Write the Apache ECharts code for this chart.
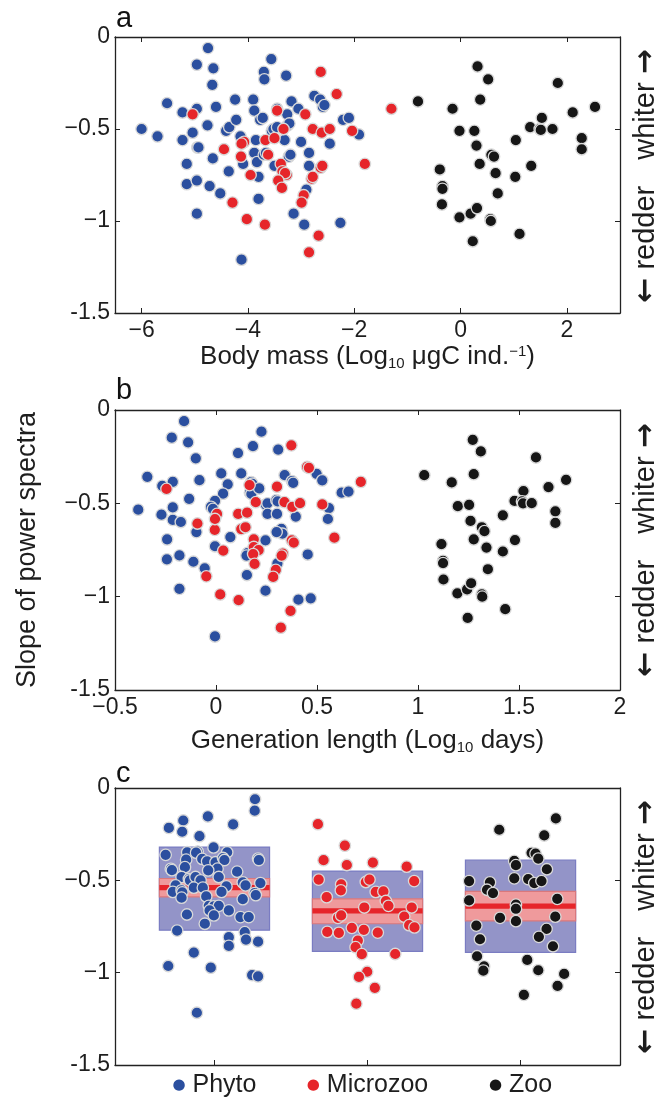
<!DOCTYPE html>
<html><head><meta charset="utf-8">
<script src="https://cdn.jsdelivr.net/npm/echarts@6.0.0/dist/echarts.min.js"></script>
<style>html,body{margin:0;padding:0;background:#fff}#c{width:659px;height:1100px}</style>
</head><body><div id="c"></div>
<script>
// ---------- Panel a: body mass (log10 µgC ind^-1) vs slope ----------
const massPhyto = [
[-4.75,-0.06],[-4.96,-0.15],[-4.65,-0.17],[-4.67,-0.26],[-3.56,-0.12],[-3.70,-0.19],[-3.69,-0.23],[-3.28,-0.21],
[-5.52,-0.36],[-5.23,-0.41],[-4.96,-0.39],[-4.60,-0.38],[-4.24,-0.34],[-3.90,-0.34],[-3.88,-0.40],[-3.77,-0.45],[-3.72,-0.44],
[-3.45,-0.39],[-3.26,-0.42],[-3.18,-0.35],[-3.05,-0.39],[-2.75,-0.32],[-2.64,-0.34],[-2.59,-0.38],[-2.56,-0.37],
[-2.21,-0.45],[-2.10,-0.44],[-1.91,-0.53],[-2.46,-0.58],[-6.00,-0.50],[-5.70,-0.54],[-5.23,-0.56],[-5.04,-0.52],
[-4.95,-0.60],[-4.93,-0.60],[-4.76,-0.48],[-4.41,-0.51],[-4.35,-0.49],[-4.22,-0.45],[-4.14,-0.54],[-3.85,-0.56],
[-3.55,-0.51],[-3.52,-0.50],[-3.45,-0.49],[-3.31,-0.56],[-3.25,-0.48],[-3.22,-0.47],[-3.00,-0.57],[-4.66,-0.66],
[-5.15,-0.69],[-5.15,-0.80],[-4.96,-0.78],[-4.72,-0.81],[-4.52,-0.85],[-4.36,-0.73],[-4.09,-0.69],[-3.88,-0.63],
[-3.83,-0.68],[-3.80,-0.76],[-3.80,-0.88],[-3.70,-0.64],[-3.66,-0.63],[-3.50,-0.70],[-3.23,-0.65],[-3.20,-0.64],
[-2.85,-0.63],[-2.85,-0.70],[-2.90,-0.83],[-4.96,-0.96],[-3.14,-0.96],[-2.94,-1.02],[-2.26,-1.01],[-4.12,-1.21]
];
const massMicro = [
[-2.63,-0.19],[-2.33,-0.31],[-5.04,-0.42],[-3.45,-0.40],[-2.92,-0.42],[-3.33,-0.50],[-3.67,-0.56],[-3.50,-0.55],
[-2.78,-0.50],[-2.61,-0.52],[-2.46,-0.50],[-2.04,-0.51],[-1.80,-0.69],[-4.45,-0.61],[-4.07,-0.57],[-4.12,-0.58],
[-4.13,-0.65],[-3.62,-0.64],[-3.95,-0.75],[-3.38,-0.69],[-3.35,-0.73],[-3.27,-0.75],[-3.30,-0.74],[-3.43,-0.78],
[-3.36,-0.82],[-2.63,-0.71],[-2.60,-0.70],[-2.80,-0.77],[-2.78,-0.76],[-2.95,-0.86],[-2.99,-0.90],[-4.29,-0.90],
[-4.02,-0.99],[-3.68,-1.02],[-2.67,-1.08],[-2.85,-1.17],[-1.30,-0.39]
];
const massZoo = [
[-0.80,-0.35],[-0.15,-0.39],[0.32,-0.16],[0.52,-0.23],[0.37,-0.34],[-0.02,-0.51],[0.26,-0.51],[0.30,-0.59],
[0.58,-0.64],[0.63,-0.65],[0.36,-0.69],[0.66,-0.74],[-0.39,-0.72],[-0.34,-0.81],[-0.34,-0.825],[-0.35,-0.91],
[-0.02,-0.98],[0.19,-0.96],[0.31,-0.93],[0.56,-0.99],[0.57,-1.0],[0.23,-1.11],[0.70,-0.85],[1.04,-0.56],
[1.03,-0.76],[1.33,-0.70],[1.11,-1.07],[1.31,-0.49],[1.49,-0.50],[1.51,-0.505],[1.53,-0.44],[1.73,-0.50],
[1.83,-0.25],[2.11,-0.41],[2.28,-0.55],[2.28,-0.61],[2.53,-0.38]
];
const massTicks = [-6, -4, -2, 0, 2];

// ---------- Panel b: generation length (log10 days) vs slope ----------
const genPhyto = [
[-0.158,-0.06],[-0.219,-0.148],[-0.138,-0.173],[-0.100,-0.259],[0.225,-0.116],[0.183,-0.194],[0.109,-0.231],[0.308,-0.212],
[-0.340,-0.358],[-0.266,-0.406],[-0.214,-0.385],[-0.082,-0.376],[0.026,-0.340],[0.125,-0.340],[0.058,-0.398],[0.035,-0.448],
[-0.005,-0.487],[-0.025,-0.519],[-0.015,-0.53],[-0.133,-0.476],[-0.385,-0.534],[-0.27,-0.561],[-0.214,-0.522],[-0.214,-0.589],
[-0.174,-0.60],[-0.097,-0.654],[-0.242,-0.693],[-0.243,-0.80],[-0.181,-0.779],[-0.112,-0.813],[-0.056,-0.848],[-0.181,-0.958],
[-0.005,-0.730],[0.071,-0.681],[-0.005,-1.213],[0.153,-0.884],[0.156,-0.766],[0.151,-0.78],[0.174,-0.386],[0.18,-0.395],
[0.168,-0.443],[0.175,-0.45],[0.214,-0.42],[0.247,-0.508],[0.255,-0.50],[0.299,-0.483],[0.305,-0.49],[0.255,-0.557],
[0.302,-0.557],[0.324,-0.637],[0.329,-0.663],[0.30,-0.654],[0.245,-0.698],[0.395,-0.571],[0.340,-0.349],[0.376,-0.381],
[0.382,-0.39],[0.498,-0.342],[0.526,-0.377],[0.622,-0.443],[0.656,-0.437],[0.559,-0.526],[0.554,-0.584],[0.454,-0.774],
[0.304,-0.822],[0.245,-0.968],[0.408,-1.016],[0.469,-1.009]
];
const genMicro = [
[0.373,-0.189],[0.451,-0.305],[0.46,-0.31],[0.717,-0.385],[-0.245,-0.423],[0.166,-0.402],[0.302,-0.411],[0.197,-0.494],
[0.339,-0.494],[0.378,-0.519],[0.416,-0.499],[0.526,-0.506],[0.586,-0.684],[-0.092,-0.608],[-0.006,-0.642],[0.005,-0.557],
[-0.005,-0.584],[0.110,-0.557],[0.154,-0.550],[0.125,-0.638],[0.146,-0.628],[0.036,-0.753],[0.187,-0.693],[0.187,-0.734],
[0.211,-0.751],[0.184,-0.772],[0.191,-0.824],[0.375,-0.698],[0.385,-0.71],[0.331,-0.769],[0.325,-0.78],[0.296,-0.857],
[0.283,-0.894],[-0.048,-0.891],[0.021,-0.988],[0.112,-1.019],[0.369,-1.076],[0.321,-1.166]
];
const genZoo = [
[1.031,-0.349],[1.167,-0.388],[1.271,-0.160],[1.311,-0.222],[1.276,-0.344],[1.197,-0.515],[1.253,-0.508],[1.260,-0.594],
[1.316,-0.628],[1.329,-0.649],[1.276,-0.693],[1.339,-0.737],[1.420,-0.564],[1.420,-0.758],[1.480,-0.697],[1.116,-0.718],
[1.124,-0.808],[1.124,-0.82],[1.126,-0.908],[1.346,-0.853],[1.195,-0.982],[1.243,-0.961],[1.263,-0.928],[1.316,-0.987],
[1.318,-1.0],[1.246,-1.114],[1.432,-1.067],[1.522,-0.434],[1.478,-0.487],[1.515,-0.490],[1.52,-0.50],[1.563,-0.499],
[1.584,-0.254],[1.646,-0.413],[1.733,-0.374],[1.680,-0.543],[1.680,-0.605]
];

// ---------- Panel c: slope by group (x = jittered position around group 1,2,3) ----------
const categories = ['Phyto', 'Microzoo', 'Zoo'];
const stripPhyto = [
[1.265,-0.061],[1.263,-0.123],[0.702,-0.216],[0.796,-0.176],[0.789,-0.237],[0.957,-0.154],[0.902,-0.261],[1.122,-0.197],
[0.994,-0.322],[0.681,-0.362],[0.822,-0.348],[0.89,-0.344],[0.88,-0.35],[0.92,-0.384],[0.952,-0.397],[1.007,-0.402],
[1.083,-0.348],[1.056,-0.379],[1.065,-0.39],[0.815,-0.388],[0.807,-0.429],[0.715,-0.438],[0.722,-0.445],[1.02,-0.437],
[0.959,-0.446],[1.028,-0.482],[1.148,-0.453],[1.285,-0.382],[1.29,-0.39],[0.785,-0.482],[0.833,-0.493],[0.84,-0.50],
[0.876,-0.482],[0.909,-0.50],[0.746,-0.527],[0.728,-0.563],[0.785,-0.554],[0.79,-0.565],[0.865,-0.54],[0.924,-0.54],
[0.785,-0.594],[1.078,-0.533],[1.046,-0.563],[1.185,-0.511],[1.203,-0.527],[1.30,-0.515],[1.263,-0.569],[1.27,-0.58],
[0.946,-0.587],[1.185,-0.602],[0.963,-0.638],[0.996,-0.641],[1.028,-0.638],[0.968,-0.663],[0.996,-0.69],[1.094,-0.663],
[0.82,-0.685],[0.937,-0.735],[1.17,-0.699],[1.224,-0.699],[0.756,-0.772],[1.198,-0.781],[1.206,-0.821],[1.285,-0.832],
[1.094,-0.808],[1.094,-0.855],[0.865,-0.891],[0.698,-0.964],[0.976,-0.973],[1.246,-1.013],[1.285,-1.02],[0.885,-1.217]
];
const stripMicro = [
[1.676,-0.196],[1.852,-0.312],[1.713,-0.391],[1.865,-0.417],[2.035,-0.404],[2.256,-0.426],[1.681,-0.496],[1.828,-0.522],
[1.826,-0.554],[1.989,-0.509],[2.013,-0.496],[2.305,-0.504],[2.054,-0.563],[2.104,-0.56],[1.733,-0.591],[2.12,-0.612],
[2.137,-0.638],[1.979,-0.647],[2.289,-0.647],[1.807,-0.703],[1.828,-0.690],[2.24,-0.696],[2.272,-0.743],[2.307,-0.755],
[1.898,-0.757],[1.737,-0.779],[1.813,-0.784],[1.976,-0.768],[2.067,-0.783],[1.937,-0.826],[1.922,-0.862],[1.963,-0.90],
[2.181,-0.899],[1.998,-0.995],[1.944,-1.023],[2.048,-1.082],[1.927,-1.168]
];
const stripZoo = [
[3.231,-0.165],[2.861,-0.226],[3.155,-0.257],[3.072,-0.351],[3.098,-0.355],[3.116,-0.382],[2.959,-0.395],[2.97,-0.418],
[3.172,-0.44],[2.664,-0.504],[2.80,-0.511],[2.959,-0.489],[3.05,-0.493],[3.09,-0.515],[3.137,-0.504],[2.781,-0.551],
[2.82,-0.569],[2.664,-0.609],[3.24,-0.60],[2.97,-0.632],[2.97,-0.654],[2.866,-0.703],[3.227,-0.697],[2.97,-0.721],
[2.711,-0.745],[3.17,-0.763],[2.735,-0.819],[3.12,-0.806],[3.212,-0.857],[2.716,-0.911],[2.762,-0.966],[2.757,-0.989],
[3.044,-0.931],[3.116,-0.987],[3.285,-1.007],[3.242,-1.072],[3.022,-1.12]
];
const boxUpper = [-0.32, -0.45, -0.39];
const boxLower = [-0.77, -0.885, -0.89];
const ciUpper = [-0.49, -0.60, -0.56];
const ciLower = [-0.59, -0.735, -0.72];
const meanSlope = [-0.54, -0.665, -0.64];

// ---------- styling ----------
const FONT = 'Liberation Sans';
const C_BLUE = '#2b4f9f', C_RED = '#e6252a', C_BLACK = '#161616';
const TXT = '#1e1e1e';
const HW = 0.36;

function fmtNum(v) {
  if (v === 0) return '0';
  if (v === -1.5) return '-1.5';
  return v < 0 ? '\u2212' + Math.abs(v) : String(v);
}
const axLine = { show: true, onZero: false, lineStyle: { color: '#222', width: 1.3 } };
const axTick = { show: true, inside: true, length: 5, lineStyle: { color: '#222', width: 1 } };
const lbl = { color: TXT, fontSize: 23, fontFamily: FONT };
const subsup = {
  sub: { fontSize: 15, fontFamily: FONT, color: TXT, padding: [13, 0, 0, 0] },
  sup: { fontSize: 15, fontFamily: FONT, color: TXT, padding: [0, 0, 11, 0] }
};

const grids = [
  { left: 115, top: 37, width: 505, height: 276 },
  { left: 115, top: 410, width: 505, height: 280 },
  { left: 115, top: 788, width: 505, height: 277 }
];

function yAxes(g) {
  return [
    { gridIndex: g, type: 'value', min: -1.5, max: 0, interval: 0.5, position: 'left',
      axisLine: axLine, axisTick: axTick, splitLine: { show: false },
      axisLabel: Object.assign({ margin: 5, formatter: fmtNum }, lbl) },
    { gridIndex: g, type: 'value', min: -1.5, max: 0, interval: 0.5, position: 'right',
      axisLine: axLine, axisTick: axTick, splitLine: { show: false }, axisLabel: { show: false } }
  ];
}

const xAxis = [
  { gridIndex: 0, type: 'value', min: -6.5, max: 3, position: 'bottom',
    axisLine: axLine, splitLine: { show: false },
    axisTick: Object.assign({ customValues: massTicks }, axTick),
    axisLabel: Object.assign({ customValues: massTicks, margin: 6, formatter: fmtNum }, lbl),
    name: 'Body mass (Log{sub|10} \u03bcgC ind.{sup|\u22121})', nameLocation: 'middle', nameGap: 30,
    nameTextStyle: { fontSize: 26, fontFamily: FONT, color: TXT, rich: subsup } },
  { gridIndex: 0, type: 'value', min: -6.5, max: 3, position: 'top',
    axisLine: axLine, splitLine: { show: false },
    axisTick: Object.assign({ customValues: massTicks }, axTick), axisLabel: { show: false } },
  { gridIndex: 1, type: 'value', min: -0.5, max: 2, interval: 0.5, position: 'bottom',
    axisLine: axLine, axisTick: axTick, splitLine: { show: false },
    axisLabel: Object.assign({ margin: 6, formatter: fmtNum }, lbl),
    name: 'Generation length (Log{sub|10} days)', nameLocation: 'middle', nameGap: 37,
    nameTextStyle: { fontSize: 26, fontFamily: FONT, color: TXT, rich: subsup } },
  { gridIndex: 1, type: 'value', min: -0.5, max: 2, interval: 0.5, position: 'top',
    axisLine: axLine, axisTick: axTick, splitLine: { show: false }, axisLabel: { show: false } },
  { gridIndex: 2, type: 'value', min: 0.35, max: 3.65, position: 'bottom',
    axisLine: axLine, splitLine: { show: false },
    axisTick: Object.assign({ customValues: [1, 2, 3] }, axTick),
    axisLabel: Object.assign({ customValues: [1, 2, 3], margin: 8,
      formatter: v => ['{p|\u25CF} ', '{m|\u25CF} ', '{z|\u25CF} '][v - 1] + categories[v - 1],
      rich: {
        p: { color: C_BLUE, fontSize: 15, fontFamily: 'DejaVu Sans' },
        m: { color: C_RED, fontSize: 15, fontFamily: 'DejaVu Sans' },
        z: { color: C_BLACK, fontSize: 15, fontFamily: 'DejaVu Sans' }
      } }, lbl, { fontSize: 25 }) },
  { gridIndex: 2, type: 'value', min: 0.35, max: 3.65, position: 'top',
    axisLine: axLine, axisTick: { show: false }, splitLine: { show: false }, axisLabel: { show: false } }
];
const yAxis = [].concat(yAxes(0), yAxes(1), yAxes(2));

function pts(name, data, color, xi, yi) {
  return { type: 'scatter', name, data, xAxisIndex: xi, yAxisIndex: yi,
    symbol: 'circle', symbolSize: 11.5, silent: true,
    itemStyle: { color, borderColor: '#d9d9d9', borderWidth: 1.3, opacity: 1 } };
}

const boxData = categories.map((c, i) => [i + 1, boxUpper[i], boxLower[i], ciUpper[i], ciLower[i], meanSlope[i]]);

const boxSeries = {
  type: 'custom', xAxisIndex: 4, yAxisIndex: 4, data: boxData, silent: true, z: 1,
  encode: { x: 0, y: [1, 2] },
  renderItem: function (params, api) {
    const x = api.value(0);
    const b1 = api.coord([x - HW, api.value(1)]), b2 = api.coord([x + HW, api.value(2)]);
    const c1 = api.coord([x - HW, api.value(3)]), c2 = api.coord([x + HW, api.value(4)]);
    const m1 = api.coord([x - HW, api.value(5)]), m2 = api.coord([x + HW, api.value(5)]);
    return { type: 'group', children: [
      { type: 'rect', shape: { x: b1[0], y: b1[1], width: b2[0] - b1[0], height: b2[1] - b1[1] },
        style: { fill: '#9394c8', stroke: '#7a7cc2', lineWidth: 1.2 } },
      { type: 'rect', shape: { x: c1[0], y: c1[1], width: c2[0] - c1[0], height: c2[1] - c1[1] },
        style: { fill: '#ef9a9c', stroke: '#d9787c', lineWidth: 1.2 } },
      { type: 'rect', shape: { x: m1[0], y: m1[1] - 2.6, width: m2[0] - m1[0], height: 5.2 },
        style: { fill: '#e6252a' } }
    ] };
  }
};

function sideLabel(cy) {
  return { type: 'text', x: 646, y: cy, rotation: Math.PI / 2,
    style: { text: '{a|\u2190} redder{g|}whiter {a|\u2192}', align: 'center', verticalAlign: 'middle',
      fontSize: 29, fontFamily: FONT, fill: TXT,
      rich: { a: { fontSize: 30, fontFamily: 'DejaVu Sans', fontWeight: 'bold', fill: TXT },
              g: { width: 26 } } } };
}
function panelLetter(t, x, y) {
  return { type: 'text', x, y, style: { text: t, fontSize: 29, fontFamily: FONT, fill: '#111',
    align: 'left', verticalAlign: 'bottom' } };
}

const option = {
  animation: false,
  backgroundColor: '#fff',
  grid: grids,
  xAxis, yAxis,
  series: [
    pts('Phyto', massPhyto, C_BLUE, 0, 0),
    pts('Microzoo', massMicro, C_RED, 0, 0),
    pts('Zoo', massZoo, C_BLACK, 0, 0),
    pts('Phyto', genPhyto, C_BLUE, 2, 2),
    pts('Microzoo', genMicro, C_RED, 2, 2),
    pts('Zoo', genZoo, C_BLACK, 2, 2),
    boxSeries,
    Object.assign(pts('Phyto', stripPhyto, C_BLUE, 4, 4), { z: 3 }),
    Object.assign(pts('Microzoo', stripMicro, C_RED, 4, 4), { z: 3 }),
    Object.assign(pts('Zoo', stripZoo, C_BLACK, 4, 4), { z: 3 })
  ],
  graphic: [
    panelLetter('a', 116, 33),
    panelLetter('b', 116, 405),
    panelLetter('c', 116, 788),
    { type: 'text', x: 28, y: 550, rotation: Math.PI / 2,
      style: { text: 'Slope of power spectra', align: 'center', verticalAlign: 'middle',
        fontSize: 27, fontFamily: FONT, fill: TXT } },
    sideLabel(176), sideLabel(550), sideLabel(927)
  ]
};
const chart = echarts.init(document.getElementById('c'), null, { renderer: 'canvas' });
chart.setOption(option);
</script>
</body></html>
